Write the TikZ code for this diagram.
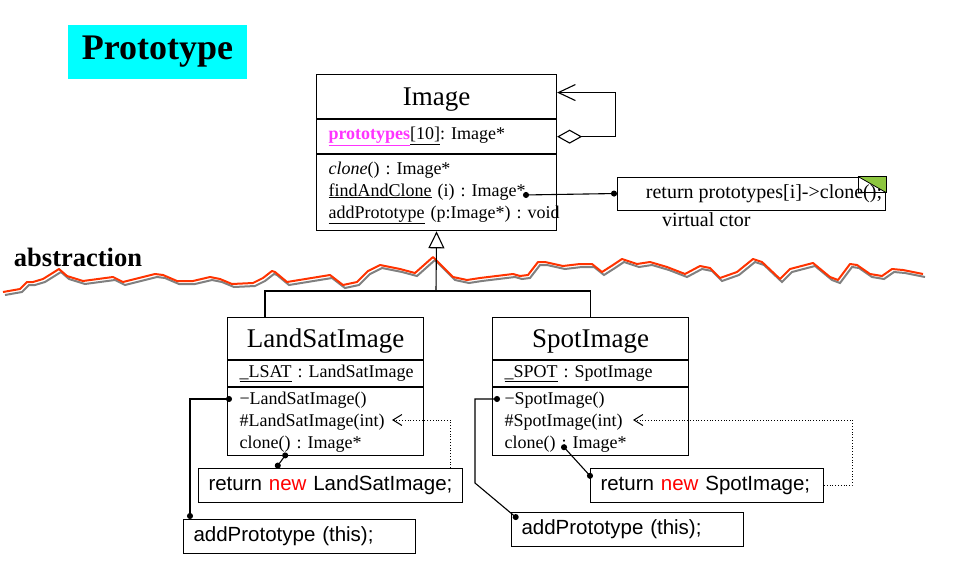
\documentclass[tikz,border=0pt]{standalone}
\usepackage{fontspec}
\setmainfont{Liberation Serif}
\setsansfont{Liberation Sans}
\usepackage{xcolor}
\usetikzlibrary{arrows.meta,positioning}
\definecolor{ink}{HTML}{000000}
\definecolor{titlecyan}{HTML}{00FFFF}
\definecolor{protomag}{HTML}{FF33FF}
\definecolor{codered}{HTML}{FF0000}
\definecolor{wavered}{HTML}{FF3300}
\definecolor{noteleaf}{HTML}{8DC63F}
\frenchspacing

\begin{document}
\begin{tikzpicture}[x=1pt, y=-1pt, every node/.style={inner sep=0pt}, umlbox/.style={draw=ink,line width=1.1pt,fill=white}, clsname/.style={umlbox,minimum width=#1,text depth=0pt,font=\fontsize{27}{30}\selectfont}, members/.style={umlbox,inner xsep=12pt,inner ysep=0pt,text width=#1,align=left,font=\fontsize{18}{22}\selectfont}, codebox/.style={draw=ink,line width=1pt,anchor=north west,minimum height=34pt,inner xsep=10pt,text width=#1,align=left,font=\sffamily\fontsize{20.5}{24}\selectfont}, line/.style={draw=ink,line width=1.1pt}, dotline/.style={line,{Circle[length=6pt]}-{Circle[length=6pt]}}, depend/.style={draw=ink,line width=0.8pt,dotted,-{Straight Barb[length=9pt,width=11pt,line width=1pt]}}, wave/.style={draw=wavered,line width=2pt,line join=round,preaction={draw=gray,line width=2pt,transform canvas={xshift=2pt,yshift=-3pt}}}]
\useasboundingbox (0,0) rectangle (972,584);

\node[fill=titlecyan,minimum width=179pt,minimum height=54pt,font=\bfseries\fontsize{36}{38}\selectfont] (title) at (157.5,52) {Prototype};
\node[font=\bfseries\fontsize{26.5}{28}\selectfont] (abstr) at (78,257) {abstraction};

\draw[wave] plot coordinates {(3,292) (20,289) (27,282) (33,282) (43,279) (59,269) (67,276) (83,281) (113,277) (123,282) (143,277) (155,274) (163,275) (177,281) (193,281) (210,277) (220,279) (232,284) (253,283) (263,278) (272,271) (275,272) (287,282) (330,275) (343,285) (357,282) (368,271) (380,265) (400,269) (415,273) (433,257) (453,277) (467,280) (480,278) (513,274) (520,276) (528,275) (538,262) (545,262) (563,266) (580,264) (592,264) (602,272) (613,265) (622,259) (637,264) (650,262) (667,267) (685,274) (700,266) (710,268) (720,278) (737,272) (753,259) (762,262) (780,279) (790,269) (813,263) (830,277) (838,280) (850,264) (857,265) (870,274) (882,276) (892,269) (903,270) (923,274)};

\node[clsname=240pt,minimum height=44pt,anchor=north west] (img) at (316,74) {Image};
\node[members=216pt,minimum height=34pt,below=0pt of img] (imgattr) {\mbox{{\color{protomag}\bfseries\underline{prototypes}}\underline{[10]}: Image*}};
\node[members=216pt,minimum height=76pt,below=0pt of imgattr] (imgops) {\textit{clone}() : Image*\\ \underline{findAndClone} (i) : Image*\\ \mbox{\underline{addPrototype} (p:Image*) : void}};
\draw[line,{Straight Barb[length=17pt,width=16pt]}-{Diamond[open,length=25pt,width=14pt]}] ([yshift=4pt]img.east) -- ++(58,0) |- (imgattr.east);

\node[draw=ink,line width=1pt,anchor=west,minimum width=268pt,minimum height=33pt,font=\fontsize{20}{22}\selectfont] (note) at (617,193.5) {\hspace*{25pt}return prototypes[i]->clone();};
\fill[noteleaf] (note.north east) -- ++(-28,0) -- ++(28,16) -- cycle;
\draw[draw=ink,line width=0.8pt] (note.north east) rectangle ++(-28,16);
\draw[draw=ink,line width=0.8pt] ([xshift=-28pt]note.north east) -- ([yshift=-16pt]note.north east);
\node[font=\fontsize{20}{22}\selectfont,anchor=north west] (vctor) at (662,212) {virtual ctor};
\coordinate (fac) at (523,195);
\draw[dotline] (fac) -- (note.west);

\node[clsname=196pt,minimum height=42pt,anchor=north west] (lsat) at (227,317) {LandSatImage};
\node[members=172pt,minimum height=26pt,below=0pt of lsat] (lsattr) {\mbox{\underline{\_LSAT} : LandSatImage}};
\node[members=172pt,minimum height=68pt,below=0pt of lsattr] (lsops) {−LandSatImage()\\ \#LandSatImage(int)\\ clone() : Image*};

\node[clsname=196pt,minimum height=42pt,anchor=north west] (spot) at (492,317) {SpotImage};
\node[members=172pt,minimum height=26pt,below=0pt of spot] (spattr) {\mbox{\underline{\_SPOT} : SpotImage}};
\node[members=172pt,minimum height=68pt,below=0pt of spattr] (spops) {−SpotImage()\\ \#SpotImage(int)\\ clone() : Image*};

\coordinate (junc) at (436,291);
\draw[line] ([xshift=38pt]lsat.north west) |- (spot.north |- junc) -- (spot.north);
\draw[line,-{Triangle[open,length=17pt,width=16pt]}] (junc) -- (imgops.south);

\node[codebox=244pt] (lsret) at (198,468) {\mbox{return \textcolor{codered}{new} LandSatImage;}};
\node[codebox=212pt] (lsadd) at (183,519) {\mbox{addPrototype (this);}};
\node[codebox=213pt] (spret) at (590,468) {\mbox{return \textcolor{codered}{new} SpotImage;}};
\node[codebox=212pt] (spadd) at (511,512) {\mbox{addPrototype (this);}};

\coordinate (lsdot) at (232,399);
\coordinate (lscl) at (287,453);
\coordinate (lsctor) at (392,420);
\draw[dotline] (lsdot) -| ([xshift=7pt]lsadd.north west);
\draw[dotline] (lscl) -- ([xshift=78pt]lsret.north west);
\draw[depend] ([xshift=-13pt]lsret.north east) |- (lsctor);

\coordinate (spdot) at (500,399);
\coordinate (spcl) at (562,445);
\coordinate (spctor) at (633,420);
\draw[dotline] (spdot) -- ++(-25,0) -- ++(0,84) -- ([shift={(7pt,-7pt)}]spadd.north west);
\draw[dotline] (spcl) -- ([shift={(2pt,-10pt)}]spret.north west);
\draw[depend] (spret.east) -- ++(28,0) |- (spctor);
\end{tikzpicture}
\end{document}
